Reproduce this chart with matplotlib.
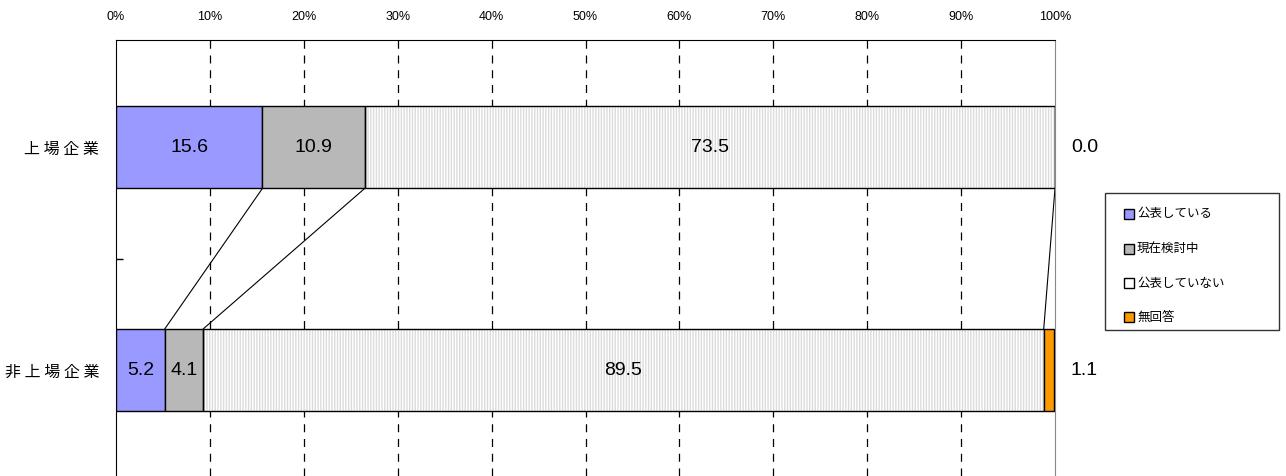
import matplotlib
matplotlib.use("Agg")
import matplotlib.pyplot as plt
import numpy as np
from matplotlib.patches import Rectangle

plt.rcParams["font.family"] = ["Noto Sans CJK JP", "DejaVu Sans"]
num_font = ["Liberation Sans", "DejaVu Sans"]

categories = ["上 場 企 業", "非 上 場 企 業"]
series_names = ["公表している", "現在検討中", "公表していない", "無回答"]
listed = [15.6, 10.9, 73.5, 0.0]
unlisted = [5.2, 4.1, 89.5, 1.1]
tick_values = list(range(0, 101, 10))
tick_labels = [f"{v}%" for v in tick_values]

colors = ["#9999ff", "#b8b8b8", "#ffffff", "#ff9900"]
bar_h = 0.37

fig = plt.figure(figsize=(12.86, 4.76), dpi=100)
ax = fig.add_axes([116 / 1286, 0, 939 / 1286, 1 - 40 / 476])

data = np.array([listed, unlisted])
lefts = np.zeros(2)
for j, name in enumerate(series_names):
    vals = data[:, j]
    if j == 2:
        # fine dotted fill, then black outline on top
        ax.barh(range(2), vals, left=lefts, height=bar_h, color="white",
                edgecolor="#dcdcdc", hatch="||||||", linewidth=0, zorder=2)
        ax.barh(range(2), vals, left=lefts, height=bar_h, color="none",
                edgecolor="black", linewidth=1, zorder=3)
    else:
        ax.barh(range(2), vals, left=lefts, height=bar_h, color=colors[j],
                edgecolor="black", linewidth=1, zorder=3)
    for i, v in enumerate(vals):
        if j == 3:
            ax.text(101.7, i, f"{v:.1f}", ha="left", va="center", fontsize=14, family=num_font)
        else:
            ax.text(lefts[i] + v / 2, i, f"{v:.1f}", ha="center", va="center",
                    fontsize=14, family=num_font, zorder=4)
    lefts = lefts + vals

# connector lines between the two bars
cum = np.cumsum(data, axis=1)
for k in range(3):
    ax.plot([cum[0, k], cum[1, k]], [bar_h / 2, 1 - bar_h / 2], color="black", linewidth=0.8, zorder=2)

ax.set_xlim(0, 100)
ax.set_ylim(1.475, -0.48)
ax.xaxis.tick_top()
ax.set_xticks(tick_values)
ax.set_xticklabels(tick_labels, fontsize=9, family=num_font)
ax.tick_params(axis="x", length=0, pad=12)
ax.set_yticks(range(2))
ax.set_yticklabels(categories, fontsize=11.5)
ax.tick_params(axis="y", length=0, pad=12)
ax.set_yticks([0.5], minor=True)
ax.tick_params(axis="y", which="minor", direction="in", length=5, width=1)
for x in tick_values[1:-1]:
    ax.axvline(x, color="black", linewidth=0.9, linestyle=(0, (6.4, 5.4)), zorder=1)

ax.spines["bottom"].set_visible(False)
ax.spines["right"].set_color("#888888")
for s in ["top", "left"]:
    ax.spines[s].set_color("black")

# legend box drawn in pixel-based figure coords
W, H = 1286, 476
fig.patches.append(Rectangle((1105 / W, 1 - 330 / H), 174 / W, 137 / H, transform=fig.transFigure,
                             facecolor="white", edgecolor="#333333", linewidth=1))
entry_y = [214, 249, 283, 317]
for name, c, y in zip(series_names, colors, entry_y):
    fig.patches.append(Rectangle((1124 / W, 1 - (y + 5) / H), 10 / W, 10 / H, transform=fig.transFigure,
                                 facecolor=c, edgecolor="black", linewidth=1))
    fig.text(1137 / W, 1 - y / H, name, fontsize=9, ha="left", va="center")

fig.savefig("out.png", dpi=100)
